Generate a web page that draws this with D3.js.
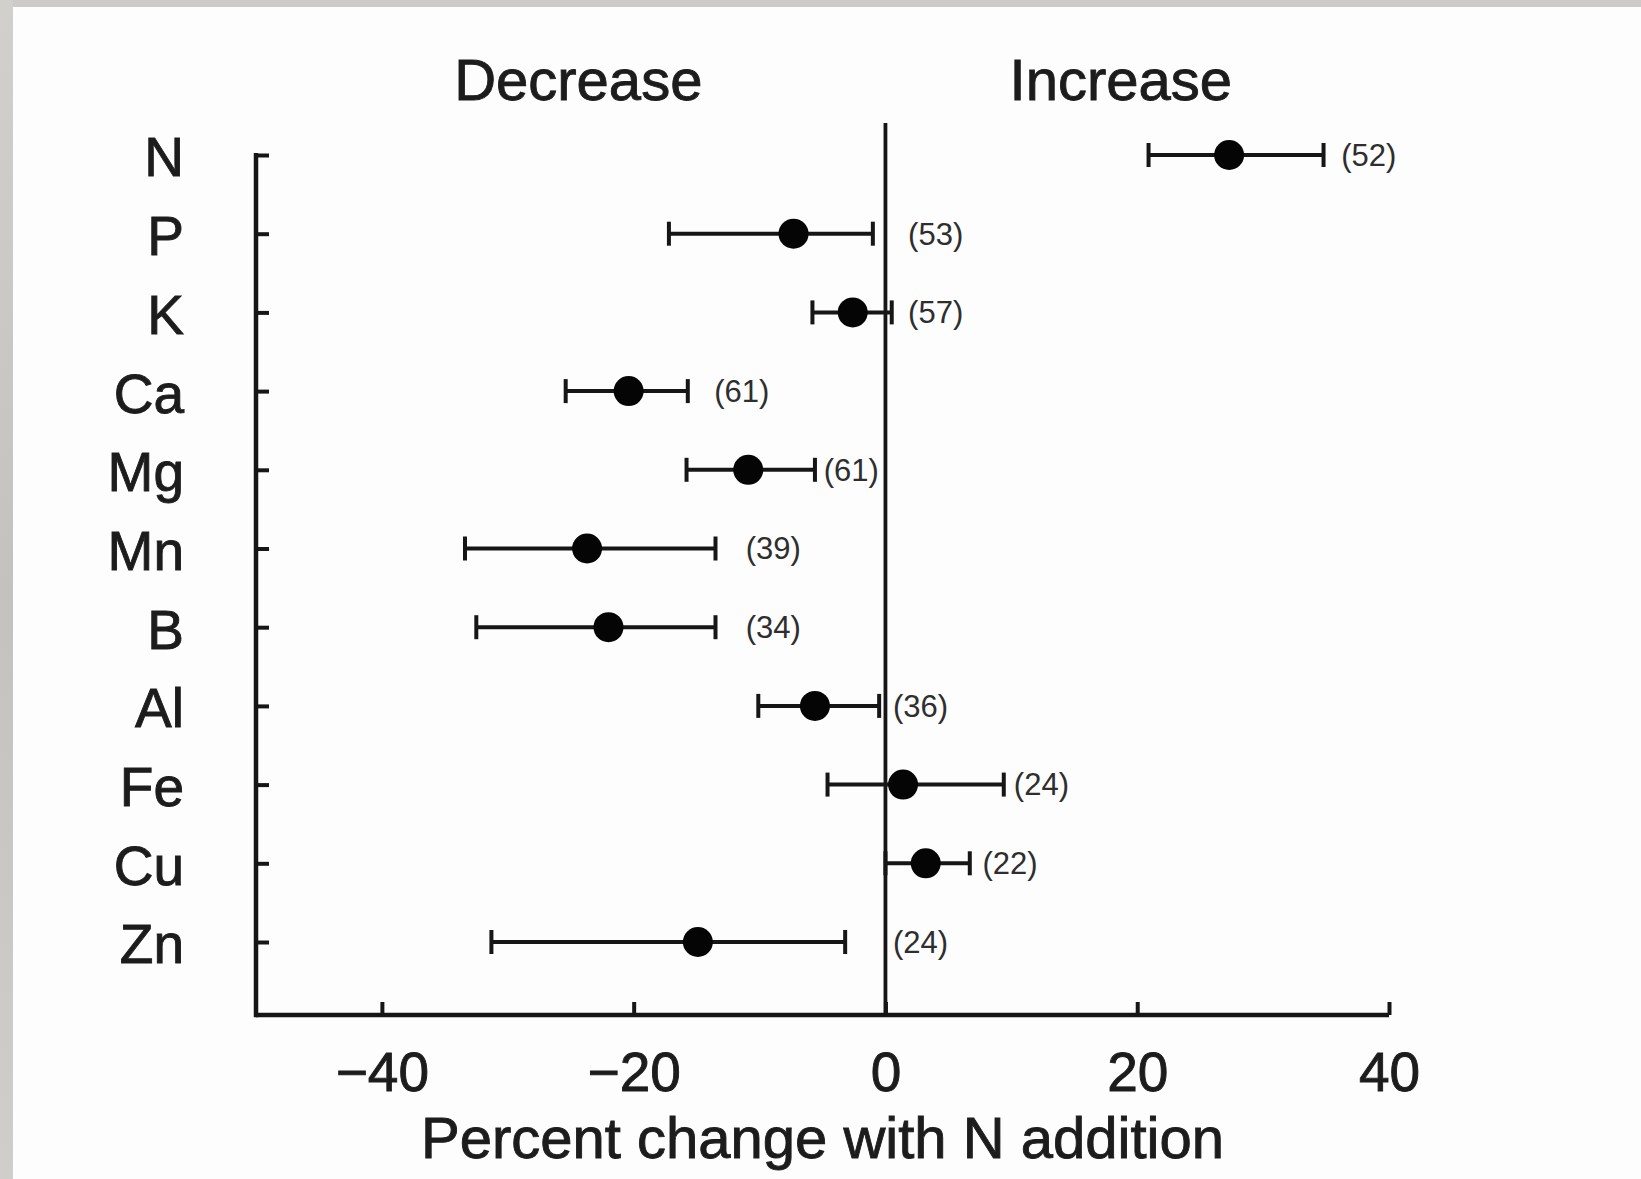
<!DOCTYPE html>
<html>
<head>
<meta charset="utf-8">
<script src="https://cdn.jsdelivr.net/npm/d3@7/dist/d3.min.js"></script>
<style>
  html, body { margin: 0; padding: 0; background: #ffffff; }
  svg { display: block; }
  text { font-family: "Liberation Sans", Arial, Helvetica, sans-serif; }
</style>
</head>
<body>
<svg id="chart" width="1641" height="1179"></svg>
<script>
// ---- data ----
const elements = ["N", "P", "K", "Ca", "Mg", "Mn", "B", "Al", "Fe", "Cu", "Zn"];
const meanChange = [27.3, -7.3, -2.6, -20.4, -10.9, -23.7, -22.0, -5.6, 1.4, 3.2, -14.9];
const lowerCI    = [20.9, -17.2, -5.8, -25.4, -15.8, -33.4, -32.5, -10.1, -4.6, 0.0, -31.3];
const upperCI    = [34.8, -1.0, 0.5, -15.7, -5.6, -13.5, -13.5, -0.5, 9.4, 6.7, -3.2];
const sampleSize = ["(52)", "(53)", "(57)", "(61)", "(61)", "(39)", "(34)", "(36)", "(24)", "(22)", "(24)"];
const sampleLabelAt = [36.2, 1.8, 1.8, -13.6, -4.9, -11.1, -11.1, 0.6, 10.2, 7.7, 0.6];
const xTicks = [-40, -20, 0, 20, 40];
const xDomain = [-50, 40];
const headers = ["Decrease", "Increase"];
const xTitle = "Percent change with N addition";

(function () {
// ---- layout ----
const W = 1641, H = 1179;
const mLeft = 256, mRight = 1389, mTop = 155, rowsBottom = 942, axisY = 1015, zeroTop = 123;
const ink = "#161616";
const textInk = "#1c1c1c";
const heavy = sel => sel.attr("stroke", textInk).attr("stroke-width", 0.9).attr("paint-order", "stroke");

const svg = d3.select("#chart");

// background frame (grey textured border of the photo)
const defs = svg.append("defs");
const g1 = defs.append("linearGradient").attr("id", "frameV").attr("x1", 0).attr("x2", 0).attr("y1", 0).attr("y2", 1);
g1.append("stop").attr("offset", "0%").attr("stop-color", "#d2d0cc");
g1.append("stop").attr("offset", "50%").attr("stop-color", "#c4c2be");
g1.append("stop").attr("offset", "100%").attr("stop-color", "#d0cecb");
svg.append("rect").attr("x", 0).attr("y", 0).attr("width", W).attr("height", H).attr("fill", "#fdfdfd");
svg.append("rect").attr("x", 0).attr("y", 0).attr("width", W).attr("height", 7).attr("fill", "#cdcbc7");
svg.append("rect").attr("x", 0).attr("y", 0).attr("width", 13).attr("height", H).attr("fill", "url(#frameV)");

const x = d3.scaleLinear().domain(xDomain).range([mLeft, mRight]);
const y = d3.scalePoint().domain(elements).range([mTop, rowsBottom]);

const rows = elements.map((e, i) => ({
  e, m: meanChange[i], lo: lowerCI[i], hi: upperCI[i], n: sampleSize[i], at: sampleLabelAt[i]
}));

// headers
svg.append("text").attr("x", x(-24.4)).attr("y", 100).attr("text-anchor", "middle")
  .attr("font-size", 58).attr("fill", textInk).text(headers[0]).call(heavy);
svg.append("text").attr("x", x(18.7)).attr("y", 100).attr("text-anchor", "middle")
  .attr("font-size", 58).attr("fill", textInk).text(headers[1]).call(heavy);

// x axis (ticks pointing up, labels below)
const xAxis = d3.axisBottom(x).tickValues(xTicks).tickSizeInner(-13).tickSizeOuter(0)
  .tickFormat(d => d < 0 ? "\u2212" + Math.abs(d) : String(d));
const gx = svg.append("g").attr("transform", `translate(0,${axisY})`).call(xAxis);
gx.select(".domain").attr("stroke", ink).attr("stroke-width", 4.5).attr("d", `M${mLeft},0H${mRight}`);
gx.selectAll(".tick line").attr("stroke", ink).attr("stroke-width", 4);
gx.selectAll(".tick text").attr("fill", textInk).attr("font-size", 55)
  .attr("y", 37).attr("dy", "0.71em").attr("font-family", "'Liberation Sans', Arial, sans-serif").call(heavy);

// y axis (ticks pointing right, labels left)
const yAxis = d3.axisLeft(y).tickSizeInner(-13).tickSizeOuter(0).tickPadding(72);
const gy = svg.append("g").attr("transform", `translate(${mLeft},0)`).call(yAxis);
gy.select(".domain").remove();
gy.selectAll(".tick line").attr("stroke", ink).attr("stroke-width", 4);
gy.selectAll(".tick text").attr("fill", textInk).attr("font-size", 55)
  .attr("dy", "0.38em").attr("font-family", "'Liberation Sans', Arial, sans-serif").call(heavy);
svg.append("line").attr("x1", mLeft).attr("x2", mLeft).attr("y1", mTop - 2).attr("y2", axisY + 2.25)
  .attr("stroke", ink).attr("stroke-width", 4.5);

// zero line
svg.append("line").attr("x1", x(0)).attr("x2", x(0)).attr("y1", zeroTop).attr("y2", axisY)
  .attr("stroke", ink).attr("stroke-width", 3.8);

// error bars
const capH = 12;
const eb = svg.append("g").attr("stroke", ink).attr("stroke-width", 4);
eb.selectAll("line.bar").data(rows).join("line").attr("class", "bar")
  .attr("x1", d => x(d.lo)).attr("x2", d => x(d.hi)).attr("y1", d => y(d.e)).attr("y2", d => y(d.e));
eb.selectAll("line.capL").data(rows).join("line").attr("class", "capL")
  .attr("x1", d => x(d.lo)).attr("x2", d => x(d.lo)).attr("y1", d => y(d.e) - capH).attr("y2", d => y(d.e) + capH);
eb.selectAll("line.capR").data(rows).join("line").attr("class", "capR")
  .attr("x1", d => x(d.hi)).attr("x2", d => x(d.hi)).attr("y1", d => y(d.e) - capH).attr("y2", d => y(d.e) + capH);

// points
svg.append("g").selectAll("circle").data(rows).join("circle")
  .attr("cx", d => x(d.m)).attr("cy", d => y(d.e)).attr("r", 15).attr("fill", "#050505");

// sample size labels
svg.append("g").selectAll("text").data(rows).join("text")
  .attr("x", d => x(d.at)).attr("y", d => y(d.e)).attr("dy", "0.35em")
  .attr("font-size", 31).attr("fill", "#2e2e2e").text(d => d.n);

// x title
svg.append("text").attr("x", (mLeft + mRight) / 2).attr("y", 1158).attr("text-anchor", "middle")
  .attr("font-size", 58).attr("fill", textInk).text(xTitle).call(heavy);
})();
</script>
</body>
</html>
